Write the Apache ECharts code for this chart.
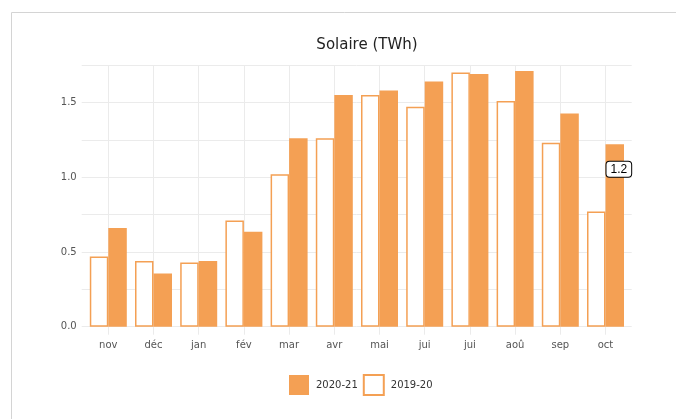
<!DOCTYPE html>
<html>
<head>
<meta charset="utf-8">
<script src="https://cdn.jsdelivr.net/npm/echarts@6/dist/echarts.min.js"></script>
<style>
  html, body { margin: 0; padding: 0; background: #fff; }
  #main { width: 676px; height: 419px; }
</style>
</head>
<body>
<div id="main"></div>
<script>
// données
var months = ["nov", "déc", "jan", "fév", "mar", "avr", "mai", "jui", "jui", "aoû", "sep", "oct"];
var prev = [0.47, 0.44, 0.43, 0.71, 1.02, 1.26, 1.55, 1.47, 1.70, 1.51, 1.23, 0.77]; // 2019-20
var curr = [0.66, 0.355, 0.44, 0.635, 1.26, 1.55, 1.58, 1.64, 1.69, 1.71, 1.425, 1.22]; // 2020-21
var seriesNames = ["2019-20", "2020-21"];
var hoverIndex = 11; // étiquette "1.2" sur oct

var orange = "#F4A054";
var gridCol = "#ebebeb";
var font = "DejaVu Sans";

var chart = echarts.init(document.getElementById("main"));

// étiquette de survol figée
var currData = curr.map(function (v, i) {
  if (i !== hoverIndex) return v;
  return {
    value: v,
    label: {
      show: true,
      position: [1, 17.5],
      align: "left",
      verticalAlign: "top",
      formatter: function (p) { return p.value.toFixed(1); },
      fontFamily: "Liberation Sans",
      fontSize: 12,
      color: "#000",
      backgroundColor: "#fff",
      borderColor: "#000",
      borderWidth: 1,
      borderRadius: 3,
      padding: [2, 4, 1, 4]
    }
  };
});

chart.setOption({
  animation: false,
  graphic: [{
    type: "rect",
    shape: { x: 11.5, y: 12.5, width: 800, height: 600 },
    style: { fill: "none", stroke: "#d4d4d4", lineWidth: 1 },
    z: -10
  }],
  title: {
    text: "Solaire (TWh)",
    left: 362,
    top: 33,
    textAlign: "center",
    textStyle: { fontFamily: font, fontSize: 15, fontWeight: "normal", color: "#222" }
  },
  legend: {
    data: ["2020-21", "2019-20"],
    left: 289,
    top: 374,
    padding: 0,
    itemWidth: 20,
    itemHeight: 20,
    itemGap: 5,
    icon: "rect",
    textStyle: { fontFamily: font, fontSize: 10, color: "#333", padding: [0, 0, 0, 2] }
  },
  grid: [
    { left: 81.7, right: 44.3, top: 65, bottom: 92.3 },  // quadrillage horizontal
    { left: 85.7, right: 47.9, top: 65, bottom: 92.3 }   // barres
  ],
  xAxis: [
    { gridIndex: 0, type: "value", show: false, min: 0, max: 1 },
    {
      gridIndex: 1,
      type: "category",
      data: months,
      axisLine: { show: false },
      axisTick: { show: true, alignWithLabel: true, length: 8, lineStyle: { color: gridCol } },
      splitLine: { show: true, alignWithLabel: true, lineStyle: { color: gridCol } },
      axisLabel: { fontFamily: font, fontSize: 10, color: "#555", margin: 14 }
    }
  ],
  yAxis: [
    {
      gridIndex: 0,
      type: "value",
      min: 0,
      max: 1.75,
      interval: 0.25,
      axisLine: { show: false },
      axisTick: { show: false },
      splitLine: { lineStyle: { color: gridCol } },
      axisLabel: {
        fontFamily: font,
        fontSize: 10,
        color: "#555",
        margin: 5,
        formatter: function (v) {
          return Math.abs(v / 0.5 - Math.round(v / 0.5)) < 1e-6 ? v.toFixed(1) : "";
        }
      }
    },
    { gridIndex: 1, type: "value", min: 0, max: 1.75, show: false }
  ],
  series: [
    {
      name: seriesNames[0],
      type: "bar",
      xAxisIndex: 1,
      yAxisIndex: 1,
      barWidth: 18.5,
      barGap: "0%",
      data: prev,
      itemStyle: { color: "#fff", borderColor: orange, borderWidth: 1.5 }
    },
    {
      name: seriesNames[1],
      type: "bar",
      xAxisIndex: 1,
      yAxisIndex: 1,
      barWidth: 18.5,
      barGap: "0%",
      data: currData,
      itemStyle: { color: orange }
    }
  ]
});
</script>
</body>
</html>
